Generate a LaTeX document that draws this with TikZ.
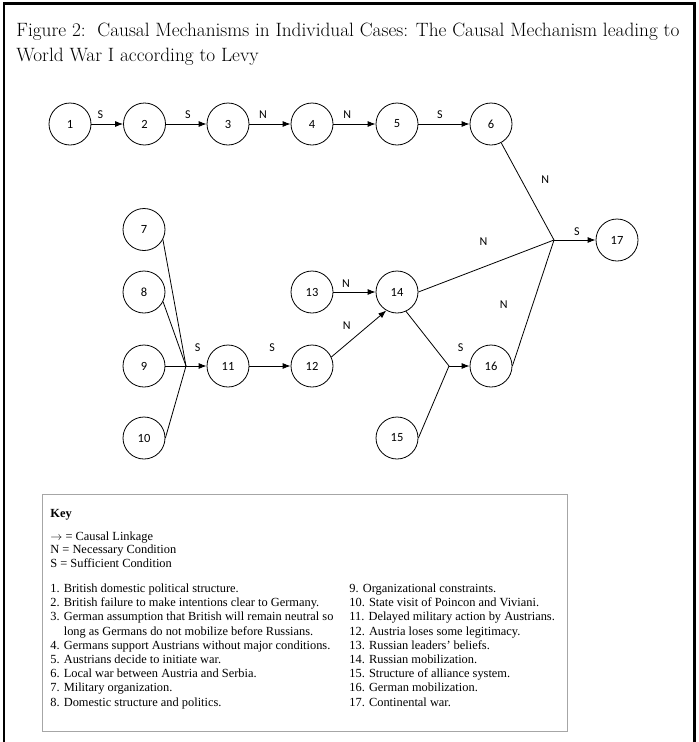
\documentclass[tikz,border=0pt]{standalone}
\usepackage{fontspec}
\newfontfamily\keyfont{Liberation Serif}
\newfontfamily\numfont{Carlito}
\usetikzlibrary{arrows.meta}

\begin{document}
\begin{tikzpicture}[x=1pt, y=-1pt, line width=0.8pt,
    cause/.style={circle, draw, minimum size=42pt, inner sep=0pt,
      font=\numfont\fontsize{12.5}{14}\selectfont},
    lbl/.style={inner sep=0pt, font=\numfont\fontsize{12}{14}\selectfont},
    keytext/.style={inner sep=0pt, anchor=base west,
      font=\keyfont\fontsize{12.4}{14}\selectfont},
    >={Latex[length=8pt,width=6pt]}]
    \useasboundingbox (0,0) rectangle (699,742);
    % frame and title
    \draw[line width=2.5pt] (4,760) -- (4,3.5) -- (694.5,3.5) -- (694.5,760);
    \node[anchor=base west, inner sep=0pt, font=\fontsize{19.3}{24}\selectfont] (title1) at (16,36)
      {Figure 2:\ \ Causal Mechanisms in Individual Cases: The Causal Mechanism leading to};
    \node[anchor=base west, inner sep=0pt, font=\fontsize{19.3}{24}\selectfont] (title2) at (16,61)
      {World War I according to Levy};
    % causes
    \node[cause] (c1) at (70,124) {1};
    \node[cause] (c2) at (144.5,124) {2};
    \node[cause] (c3) at (228,124) {3};
    \node[cause] (c4) at (312,124) {4};
    \node[cause] (c5) at (397,124) {5};
    \node[cause] (c6) at (491,124) {6};
    \node[cause] (c7) at (144,229.5) {7};
    \node[cause] (c8) at (144,292) {8};
    \node[cause] (c9) at (144,366) {9};
    \node[cause] (c10) at (144,438) {10};
    \node[cause] (c11) at (228,366) {11};
    \node[cause] (c12) at (312,366) {12};
    \node[cause] (c13) at (312,292) {13};
    \node[cause] (c14) at (397,292) {14};
    \node[cause] (c15) at (397,438) {15};
    \node[cause] (c16) at (491,366) {16};
    \node[cause] (c17) at (617,240) {17};
    \coordinate (j11) at (186,366);
    \coordinate (j16) at (449,366);
    \coordinate (j17) at (554,240);
    % linkages
    \draw[->] (c1) -- node[lbl, above=5pt, pos=.28] (s1) {S} (c2);
    \draw[->] (c2) -- node[lbl, above=5pt, pos=.54] (s2) {S} (c3);
    \draw[->] (c3) -- node[lbl, above=5pt, pos=.33] (n3) {N} (c4);
    \draw[->] (c4) -- node[lbl, above=5pt, pos=.33] (n4) {N} (c5);
    \draw[->] (c5) -- node[lbl, above=5pt, pos=.42] (s5) {S} (c6);
    \draw (c6) -- node[lbl, pos=.38, xshift=24pt] (n6) {N} (j17);
    \draw (c14.east) -- node[lbl, pos=.48, yshift=25pt] (n14) {N} (j17);
    \draw (c16.east) -- node[lbl, pos=.49, xshift=-29pt] (n16) {N} (j17);
    \draw[->] (j17) -- node[lbl, above=4pt, pos=.55] (s17) {S} (c17);
    \draw (c7.-28) -- (j11);
    \draw (c8.-27) -- (j11);
    \draw (c9) -- (j11);
    \draw (c10.east) -- (j11);
    \draw[->] (j11) -- node[lbl, above=14pt, pos=.57] (s11) {S} (c11);
    \draw[->] (c11) -- node[lbl, above=14pt, pos=.55] (s12) {S} (c12);
    \draw[->] (c12.25) -- node[lbl, pos=.5, xshift=-12pt, yshift=8pt] (n12) {N} (c14.240);
    \draw[->] (c13) -- node[lbl, above=4pt, pos=.3] (n13) {N} (c14);
    \draw (c14.-65) -- (j16);
    \draw (c15.east) -- (j16);
    \draw[->] (j16) -- node[lbl, above=14pt, pos=.57] (s16) {S} (c16);
    % key
    \draw[gray!70, line width=1pt] (42,494) rectangle (567,731);
    \node[keytext, font=\keyfont\bfseries\fontsize{12.4}{14}\selectfont] (key) at (50,517) {Key};
    \node[keytext] (k1) at (50,540) {$\rightarrow$ = Causal Linkage};
    \node[keytext] (k2) at (50,553.5) {N = Necessary Condition};
    \node[keytext] (k3) at (50,567) {S = Sufficient Condition};
    \foreach \txt [count=\k from 0] in {
        {1. British domestic political structure.},
        {2. British failure to make intentions clear to Germany.},
        {3. German assumption that British will remain neutral so},
        {\phantom{3. }long as Germans do not mobilize before Russians.},
        {4. Germans support Austrians without major conditions.},
        {5. Austrians decide to initiate war.},
        {6. Local war between Austria and Serbia.},
        {7. Military organization.},
        {8. Domestic structure and politics.}}
      \node[keytext] (l\k) at (50,592.5+14.2*\k) {\txt};
    \foreach \txt [count=\k from 0] in {
        {9. Organizational constraints.},
        {10. State visit of Poincon and Viviani.},
        {11. Delayed military action by Austrians.},
        {12. Austria loses some legitimacy.},
        {13. Russian leaders’ beliefs.},
        {14. Russian mobilization.},
        {15. Structure of alliance system.},
        {16. German mobilization.},
        {17. Continental war.}}
      \node[keytext] (r\k) at (349,592.5+14.2*\k) {\txt};
\end{tikzpicture}
\end{document}
